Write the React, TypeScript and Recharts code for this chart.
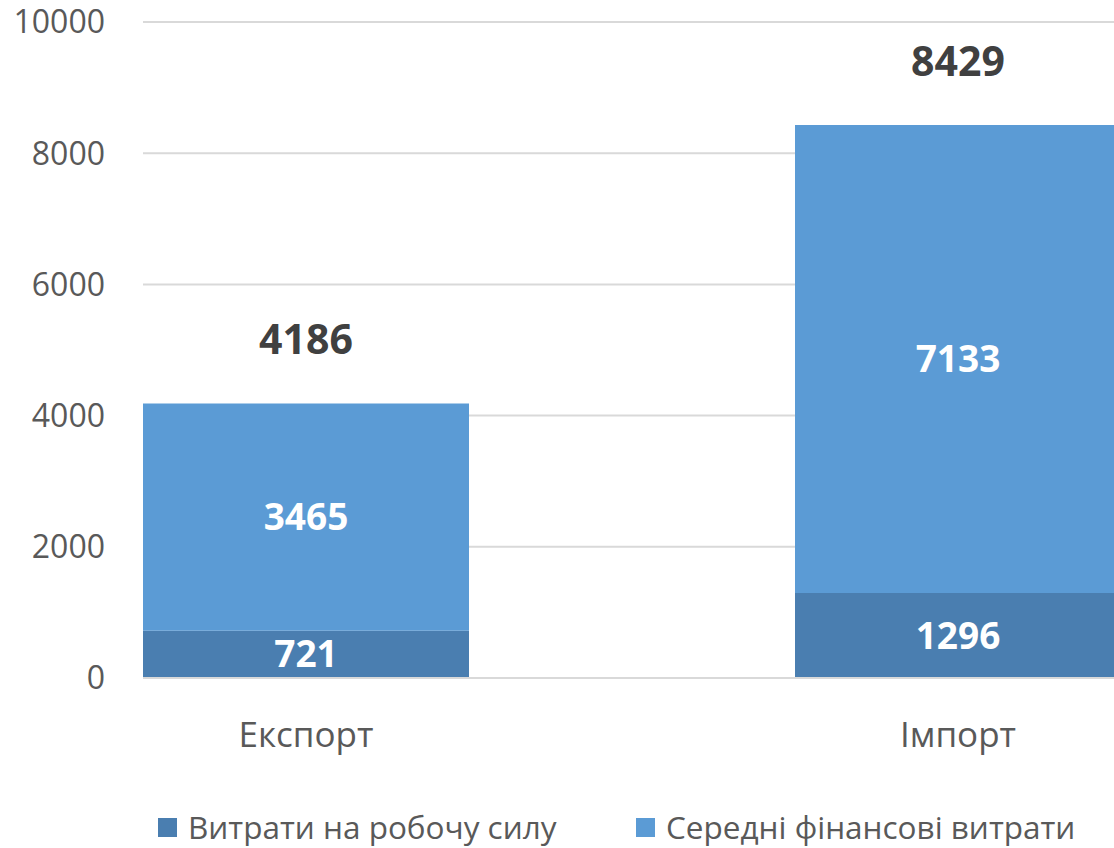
import React from "react";
import { BarChart, Bar, XAxis, YAxis, CartesianGrid, Legend, LabelList } from "recharts";

const categories = ["Експорт", "Імпорт"];
const laborCosts = [721, 1296];
const financeCosts = [3465, 7133];
const totals = [4186, 8429];
const yTicks = [0, 2000, 4000, 6000, 8000, 10000];
const seriesNames = ["Витрати на робочу силу", "Середні фінансові витрати"];
const colors = ["#4A7EB0", "#5B9BD5"];

const data = categories.map((c, i) => ({
  name: c,
  labor: laborCosts[i],
  finance: financeCosts[i],
  total: totals[i],
}));

const FONT = "'Open Sans', sans-serif";

const TotalLabel = (props: any) => {
  const { x, y, width, index } = props;
  return (
    <text
      x={x + width / 2}
      y={y - 65}
      textAnchor="middle"
      dominantBaseline="central"
      fill="#404040"
      fontSize={41}
      fontWeight="bold"
      fontFamily={FONT}
    >
      {totals[index]}
    </text>
  );
};

const LegendContent = () => (
  <div style={{ position: "relative", height: 70, fontFamily: FONT }}>
    {seriesNames.map((n, i) => (
      <div
        key={n}
        style={{
          position: "absolute",
          left: i === 0 ? 158 : 636,
          top: 30,
          display: "flex",
          alignItems: "center",
          fontSize: 31.5,
          color: "#595959",
          whiteSpace: "nowrap",
          lineHeight: "38px",
        }}
      >
        <span style={{ display: "inline-block", width: 19, height: 19, background: colors[i], marginRight: 11 }} />
        {n}
      </div>
    ))}
  </div>
);

export default function App() {
  return (
    <div style={{ position: "absolute", left: 0, top: 0, width: 1114, height: 848, overflow: "hidden", background: "#fff" }}>
      <BarChart
        width={1114}
        height={848}
        data={data}
        margin={{ top: 22, right: 0, bottom: 0, left: 0 }}
        barCategoryGap="25%"
      >
        <CartesianGrid vertical={false} stroke="#D9D9D9" strokeWidth={2} />
        <XAxis
          dataKey="name"
          padding={{ left: -163, right: -170 }}
          height={100}
          axisLine={{ stroke: "#D9D9D9", strokeWidth: 2 }}
          tickLine={false}
          tickSize={0}
          tickMargin={44}
          tick={{ fill: "#595959", fontSize: 35, fontFamily: FONT }}
        />
        <YAxis
          domain={[0, 10000]}
          ticks={yTicks}
          width={143}
          axisLine={false}
          tickLine={false}
          tickSize={0}
          tickMargin={38}
          tick={{ fill: "#595959", fontSize: 32, fontFamily: FONT }}
        />
        <Legend verticalAlign="bottom" height={70} content={<LegendContent />} />
        <Bar dataKey="labor" stackId="a" fill={colors[0]} isAnimationActive={false} name={seriesNames[0]}>
          <LabelList dataKey="labor" position="center" fill="#fff" fontSize={37} fontWeight="bold" fontFamily={FONT} />
        </Bar>
        <Bar dataKey="finance" stackId="a" fill={colors[1]} isAnimationActive={false} name={seriesNames[1]}>
          <LabelList dataKey="finance" position="center" fill="#fff" fontSize={37} fontWeight="bold" fontFamily={FONT} />
          <LabelList dataKey="total" content={<TotalLabel />} />
        </Bar>
      </BarChart>
    </div>
  );
}
